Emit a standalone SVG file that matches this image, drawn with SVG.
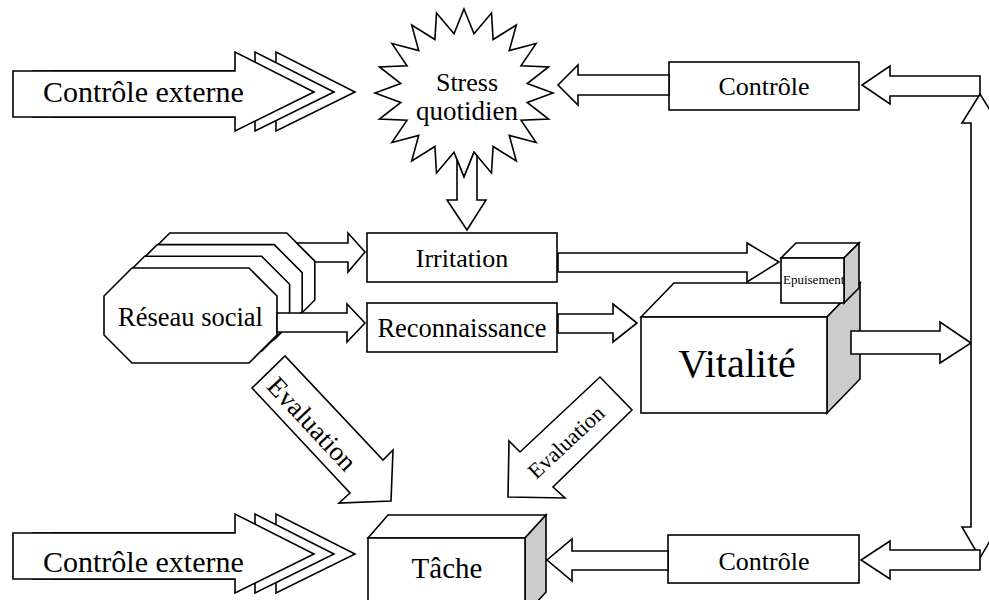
<svg xmlns="http://www.w3.org/2000/svg" width="989" height="600" viewBox="0 0 989 600">
  <style>
    .s { fill: #fff; stroke: #000; stroke-width: 1.6; stroke-linejoin: miter; }
    .g { fill: #cccccc; stroke: #000; stroke-width: 1.6; stroke-linejoin: miter; }
    .t { font-family: "Liberation Serif", "Times New Roman", serif; fill: #000; }
    .c { text-anchor: middle; }
  </style>
  <defs>
    <!-- big striped arrow used for the external control inputs -->
    <polygon id="extArrow" points="13,19 235,19 235,0 314,40 235,79 235,65 13,65" class="s"/>
    <!-- octagon used for the stacked social network shape -->
    <polygon id="octa" points="132,268 249,268 277,296 277,335 249,363 132,363 104,335 104,296" class="s"/>
  </defs>
  <rect width="989" height="600" fill="#fff"/>

  <!-- Nodes -->
  <g id="ctrl-ext-top">
    <use href="#extArrow" x="41" y="52"/>
    <use href="#extArrow" x="20" y="52"/>
    <use href="#extArrow" x="0" y="52"/>
    <text class="t" x="43" y="102" font-size="30">Contrôle externe</text>
  </g>

  <g id="stress">
    <polygon class="s" points="464,9 474,33.7 491.5,13.1 493.1,39.5 516.3,25 509.3,50.6 536,43.6 521,65.8 548.6,67 527.2,83.6 553,93 527.2,102.4 548.6,119 521,120.2 536,142.4 509.3,135.4 516.3,161 493.1,146.5 491.5,172.9 474,152.3 464,177 454,152.3 436.5,172.9 434.9,146.5 411.7,161 418.7,135.4 392,142.4 407,120.2 379.4,119 400.8,102.4 375,93 400.8,83.6 379.4,67 407,65.8 392,43.6 418.7,50.6 411.7,25 434.9,39.5 436.5,13.1 454,33.7"/>
    <text class="t c" x="467" y="91" font-size="26">Stress</text>
    <text class="t c" x="467" y="120" font-size="27">quotidien</text>
  </g>

  <g id="ctrl-top">
    <rect class="s" x="669" y="62" width="190" height="48"/>
    <text class="t c" x="764" y="95" font-size="26">Contrôle</text>
  </g>

  <g id="reseau">
    <use href="#octa" x="37.8" y="-35"/>
    <use href="#octa" x="25.2" y="-23.4"/>
    <use href="#octa" x="12.6" y="-11.7"/>
    <use href="#octa"/>
    <text class="t c" x="190.5" y="326" font-size="26.5">Réseau social</text>
  </g>

  <g id="irritation">
    <rect class="s" x="367" y="233" width="190" height="49"/>
    <text class="t c" x="462" y="267" font-size="26">Irritation</text>
  </g>

  <g id="reconnaissance">
    <rect class="s" x="367" y="303" width="190" height="49"/>
    <text class="t c" x="462" y="337" font-size="26.5">Reconnaissance</text>
  </g>

  <g id="vitalite">
    <polygon class="s" points="641,317 674,283 860,283 827,317"/>
    <polygon class="g" points="827,317 860,283 860,379 827,413"/>
    <rect class="s" x="641" y="317" width="186" height="96"/>
    <text class="t c" x="737" y="377" font-size="40">Vitalité</text>
  </g>

  <g id="epuisement">
    <polygon class="s" points="781,258 796,243 859,243 844,258"/>
    <polygon class="g" points="844,258 859,243 859,288 844,303"/>
    <rect class="s" x="781" y="258" width="63" height="45"/>
    <text class="t" x="783" y="284" font-size="13">Epuisement</text>
  </g>

  <g id="tache">
    <polygon class="s" points="368,538 388,515 546,515 525,538"/>
    <polygon class="g" points="525,538 546,515 546,592 525,615"/>
    <rect class="s" x="368" y="538" width="157" height="77"/>
    <text class="t c" x="447" y="578" font-size="29">Tâche</text>
  </g>

  <g id="ctrl-ext-bottom">
    <use href="#extArrow" x="41" y="514"/>
    <use href="#extArrow" x="20" y="514"/>
    <use href="#extArrow" x="0" y="514"/>
    <text class="t" x="43" y="572" font-size="30">Contrôle externe</text>
  </g>

  <g id="ctrl-bottom">
    <rect class="s" x="668" y="535" width="191" height="48"/>
    <text class="t c" x="764" y="570" font-size="26">Contrôle</text>
  </g>

  <!-- Connectors (block arrows) -->
  <g id="connectors">
    <!-- stress -> irritation, emerging from under the star -->
    <polygon class="s" points="457,159.7 464,177 474,152.3 477,155.8 477,200 486,200 467,230 447,200 457,200"/>
    <!-- top control -> stress -->
    <polygon class="s" points="669,75 578,75 578,65 558,85 578,105 578,95 669,95"/>
    <!-- feedback -> top control -->
    <polygon class="s" points="980,76 890,76 890,66 862,85 890,104 890,96 980,96"/>
    <!-- social network -> irritation -->
    <polygon class="s" points="296.8,243 348,243 348,233 365,252 348,272 348,262 314.8,262 314.8,261"/>
    <!-- social network -> recognition -->
    <polygon class="s" points="277,313 347,313 347,304 365,323 347,342 347,332 277,332"/>
    <!-- irritation -> exhaustion -->
    <polygon class="s" points="558,253 747,253 747,243 779,262 747,282 747,272 558,272"/>
    <!-- recognition -> vitality -->
    <polygon class="s" points="558,314 613,314 613,304 637,323 613,342 613,333 558,333"/>
    <!-- vitality -> feedback line -->
    <polygon class="s" points="851,331 940,331 940,322 971,343 940,363 940,354 851,354"/>
    <line x1="971" y1="343" x2="989" y2="343" stroke="#000" stroke-width="3"/>
    <!-- vertical feedback double arrow (right half runs past the edge) -->
    <polygon class="s" points="971,123 962,123 980,94 998,123 992,123 992,527 998,527 980,558 962,527 971,527"/>
    <!-- feedback -> bottom control -->
    <polygon class="s" points="980,550 890,550 890,541 861,560 890,579 890,570 980,570"/>
    <!-- bottom control -> task -->
    <polygon class="s" points="668,551 572,551 572,539 547,560 572,581 572,570 668,570"/>
    <!-- evaluation from social network -> task -->
    <polygon class="s" points="252,388 350,493 339,503 391,501 393,450 383,460 285,356"/>
    <g transform="translate(312,424) rotate(47)">
      <text class="t c" x="0" y="9" font-size="27">Evaluation</text>
    </g>
    <!-- evaluation from vitality -> task -->
    <polygon class="s" points="632,410 553,487 565,498 508,497 509,441 520,452 600,377"/>
    <g transform="translate(566,442) rotate(-43)">
      <text class="t c" x="0" y="7.5" font-size="22">Evaluation</text>
    </g>
  </g>
</svg>
